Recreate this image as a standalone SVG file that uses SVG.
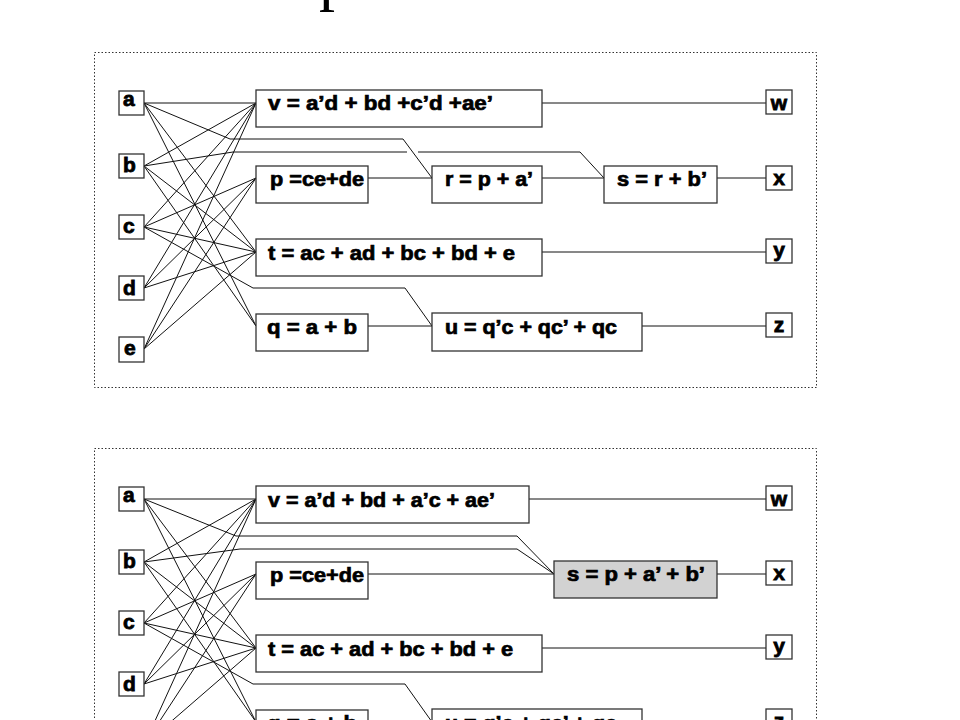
<svg xmlns="http://www.w3.org/2000/svg" width="960" height="720" viewBox="0 0 960 720">
<style>
  .frame { fill: none; stroke: #333; stroke-width: 1; stroke-dasharray: 1.5 2; }
  .box { fill: #fff; stroke: #333; stroke-width: 1.3; }
  .hl { fill: #d2d2d2; stroke: #333; stroke-width: 1.3; }
  .wire { fill: none; stroke: #111; stroke-width: 1; }
  .lbl { font-family: "Liberation Sans", Arial, sans-serif; font-weight: bold; font-size: 20px; fill: #000; stroke: #000; stroke-width: 0.7; }
  .io { font-family: "Liberation Sans", Arial, sans-serif; font-weight: bold; font-size: 21px; fill: #000; stroke: #000; stroke-width: 0.8; }
  .title { font-family: "Liberation Serif", "Times New Roman", serif; font-size: 64px; fill: #000; }
</style>
<rect width="960" height="720" fill="#fff"/>
<text class="title" x="319" y="-2">p</text>

<!-- ================= TOP DIAGRAM ================= -->
<g id="top">
<rect class="frame" x="94.5" y="52.5" width="722" height="335"/>

<g id="top-connectors">
  <path class="wire" d="
    M144,103 L256,103 M144,166 L256,103 M144,227 L256,103 M144,288 L256,103 M144,349 L256,103
    M144,227 L256,178 M144,288 L256,178 M144,349 L256,178
    M144,103 L256,252 M144,166 L256,252 M144,227 L256,252 M144,288 L256,252 M144,349 L256,252
    M144,103 L256,326 M144,166 L256,326"/>
  <polyline class="wire" points="144,103 230,139 403,139 432,178"/>
  <polyline class="wire" points="144,166 233,152 407,152"/>
  <polyline class="wire" points="418,152 580,152 604,178"/>
  <polyline class="wire" points="144,227 253,288 405,288 432,326"/>
  <line class="wire" x1="368" y1="178" x2="432" y2="178"/>
  <line class="wire" x1="542" y1="178" x2="604" y2="178"/>
  <line class="wire" x1="717" y1="178" x2="766" y2="178"/>
  <line class="wire" x1="542" y1="103" x2="766" y2="103"/>
  <line class="wire" x1="542" y1="252" x2="766" y2="252"/>
  <line class="wire" x1="368" y1="326" x2="432" y2="326"/>
  <line class="wire" x1="642" y1="326" x2="766" y2="326"/>
</g>

<g id="t-in-a"><rect class="box" x="119" y="91" width="25" height="24"/><text class="io" x="123" y="106">a</text></g>
<g id="t-in-b"><rect class="box" x="119" y="154" width="25" height="24"/><text class="io" x="123" y="172">b</text></g>
<g id="t-in-c"><rect class="box" x="119" y="215" width="25" height="24"/><text class="io" x="123" y="233">c</text></g>
<g id="t-in-d"><rect class="box" x="119" y="276" width="25" height="24"/><text class="io" x="123" y="295">d</text></g>
<g id="t-in-e"><rect class="box" x="119" y="337" width="25" height="25"/><text class="io" x="124" y="355">e</text></g>

<g id="t-v"><rect class="box" x="256" y="90" width="286" height="37"/><text class="lbl" x="268" y="110" textLength="225" lengthAdjust="spacingAndGlyphs">v = a’d + bd +c’d +ae’</text></g>
<g id="t-p"><rect class="box" x="256" y="166" width="112" height="37"/><text class="lbl" x="270" y="186" textLength="94" lengthAdjust="spacingAndGlyphs">p =ce+de</text></g>
<g id="t-r"><rect class="box" x="432" y="166" width="110" height="37"/><text class="lbl" x="445" y="186" textLength="88" lengthAdjust="spacingAndGlyphs">r = p + a’</text></g>
<g id="t-s"><rect class="box" x="604" y="166" width="113" height="37"/><text class="lbl" x="617" y="186" textLength="90" lengthAdjust="spacingAndGlyphs">s = r + b’</text></g>
<g id="t-t"><rect class="box" x="256" y="239" width="286" height="37"/><text class="lbl" x="268" y="260" textLength="247" lengthAdjust="spacingAndGlyphs">t = ac + ad + bc + bd + e</text></g>
<g id="t-q"><rect class="box" x="256" y="314" width="112" height="37"/><text class="lbl" x="267" y="334" textLength="90" lengthAdjust="spacingAndGlyphs">q = a + b</text></g>
<g id="t-u"><rect class="box" x="432" y="313" width="210" height="38"/><text class="lbl" x="445" y="334" textLength="172" lengthAdjust="spacingAndGlyphs">u = q’c + qc’ + qc</text></g>

<g id="t-out-w"><rect class="box" x="766" y="90" width="26" height="24"/><text class="io" x="779" y="110" text-anchor="middle">w</text></g>
<g id="t-out-x"><rect class="box" x="766" y="166" width="26" height="24"/><text class="io" x="779" y="185" text-anchor="middle">x</text></g>
<g id="t-out-y"><rect class="box" x="766" y="239" width="26" height="24"/><text class="io" x="779" y="257" text-anchor="middle">y</text></g>
<g id="t-out-z"><rect class="box" x="766" y="313" width="26" height="24"/><text class="io" x="779" y="332" text-anchor="middle">z</text></g>
</g>

<!-- ================= BOTTOM DIAGRAM ================= -->
<g id="bottom">
<rect class="frame" x="94.5" y="448.5" width="722" height="335"/>

<g id="bottom-connectors">
  <path class="wire" d="
    M144,499 L256,499 M144,562 L256,499 M144,623 L256,499 M144,684 L256,499 M144,745 L256,499
    M144,623 L256,574 M144,684 L256,574 M144,745 L256,574
    M144,499 L256,648 M144,562 L256,648 M144,623 L256,648 M144,684 L256,648 M144,745 L256,648
    M144,499 L256,722 M144,562 L256,722"/>
  <polyline class="wire" points="144,499 236,536 517,536 554,574"/>
  <polyline class="wire" points="144,562 240,549 517,549 554,574"/>
  <polyline class="wire" points="144,623 253,684 405,684 432,722"/>
  <line class="wire" x1="368" y1="574" x2="554" y2="574"/>
  <line class="wire" x1="717" y1="574" x2="766" y2="574"/>
  <line class="wire" x1="529" y1="499" x2="766" y2="499"/>
  <line class="wire" x1="542" y1="648" x2="766" y2="648"/>
  <line class="wire" x1="368" y1="722" x2="432" y2="722"/>
  <line class="wire" x1="642" y1="722" x2="766" y2="722"/>
</g>

<g id="b-in-a"><rect class="box" x="119" y="487" width="25" height="24"/><text class="io" x="123" y="502">a</text></g>
<g id="b-in-b"><rect class="box" x="119" y="550" width="25" height="24"/><text class="io" x="123" y="568">b</text></g>
<g id="b-in-c"><rect class="box" x="119" y="611" width="25" height="24"/><text class="io" x="123" y="629">c</text></g>
<g id="b-in-d"><rect class="box" x="119" y="672" width="25" height="24"/><text class="io" x="123" y="691">d</text></g>
<g id="b-in-e"><rect class="box" x="119" y="733" width="25" height="25"/><text class="io" x="124" y="751">e</text></g>

<g id="b-v"><rect class="box" x="256" y="486" width="273" height="37"/><text class="lbl" x="268" y="507" textLength="227" lengthAdjust="spacingAndGlyphs">v = a’d + bd + a’c + ae’</text></g>
<g id="b-p"><rect class="box" x="256" y="562" width="112" height="37"/><text class="lbl" x="270" y="582" textLength="94" lengthAdjust="spacingAndGlyphs">p =ce+de</text></g>
<g id="b-s"><rect class="hl" x="554" y="561" width="163" height="37"/><text class="lbl" x="567" y="581" textLength="138" lengthAdjust="spacingAndGlyphs">s = p + a’ + b’</text></g>
<g id="b-t"><rect class="box" x="256" y="635" width="286" height="37"/><text class="lbl" x="268" y="656" textLength="245" lengthAdjust="spacingAndGlyphs">t = ac + ad + bc + bd + e</text></g>
<g id="b-q"><rect class="box" x="256" y="710" width="112" height="37"/><text class="lbl" x="267" y="730" textLength="90" lengthAdjust="spacingAndGlyphs">q = a + b</text></g>
<g id="b-u"><rect class="box" x="432" y="709" width="210" height="38"/><text class="lbl" x="445" y="730" textLength="172" lengthAdjust="spacingAndGlyphs">u = q’c + qc’ + qc</text></g>

<g id="b-out-w"><rect class="box" x="766" y="486" width="26" height="24"/><text class="io" x="779" y="506" text-anchor="middle">w</text></g>
<g id="b-out-x"><rect class="box" x="766" y="561" width="26" height="24"/><text class="io" x="779" y="580" text-anchor="middle">x</text></g>
<g id="b-out-y"><rect class="box" x="766" y="635" width="26" height="24"/><text class="io" x="779" y="653" text-anchor="middle">y</text></g>
<g id="b-out-z"><rect class="box" x="766" y="709" width="26" height="24"/><text class="io" x="779" y="728" text-anchor="middle">z</text></g>
</g>
</svg>
